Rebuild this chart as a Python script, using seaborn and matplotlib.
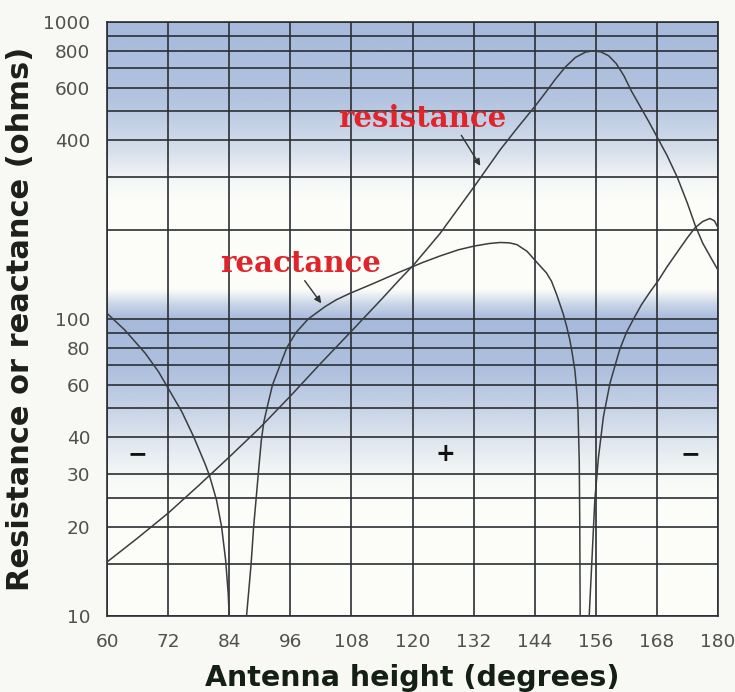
import numpy as np
import pandas as pd
import seaborn as sns
import matplotlib
matplotlib.use("Agg")
import matplotlib.pyplot as plt
from matplotlib.ticker import FixedLocator, FuncFormatter, NullLocator

# resistance curve (degrees, ohms)
res_deg = [60, 66, 72, 78, 84, 90, 96, 102, 108, 114, 117.5, 120.2,
           125.4, 132.1, 137.2, 140.5, 144, 146, 148, 150, 152, 154, 155.5,
           157, 158.5, 160, 161.5, 163, 164.7, 166.4, 168, 170, 172, 174,
           175.5, 177, 178.5, 180]
res_ohm = [15.2, 18.3, 22.2, 27.5, 34.3, 43, 55, 71, 91, 117, 136, 152,
           194, 279, 371, 438, 519, 575, 640, 705, 760, 792, 800,
           793, 770, 725, 660, 585, 520, 462, 411, 355, 300, 245,
           207, 180, 162, 146]

# reactance magnitude, three branches between the zero crossings
xl_deg = [60, 63.5, 67.5, 70.1, 72, 74.7, 77, 79.2, 80.1, 81.5, 82.5, 83.3,
          83.8, 84.0, 84.15]
xl_ohm = [104.5, 91.8, 76.7, 66.5, 58.5, 48.7, 40.2, 32.7, 29.8, 24.6, 20, 15.4,
          11.9, 10, 8.5]

xm_deg = [86.9, 87.4, 87.9, 88.3, 88.8, 89.3, 89.7, 90.3, 90.8, 91.4, 92.5, 94.0,
          95.3, 97.1, 99.5, 102.8, 105, 107.7, 112, 117.5, 119.2, 122, 125.4,
          129, 132.1, 135, 137.2, 139, 140.5, 142.5, 144, 146.3, 147.3, 148.3,
          149.6, 150.3, 150.9, 151.4, 151.9, 152.3, 152.5, 152.75, 152.85, 152.95]
xm_ohm = [8, 10, 12.5, 15, 20, 25, 30, 39, 45, 50, 60, 70,
          80, 90, 100, 110, 116, 122, 131, 144, 148, 155, 163,
          171, 176, 179.5, 181, 180.5, 178, 169, 158, 143, 134, 121,
          104, 94, 85, 76, 67, 56, 49, 33, 20, 8]

xr_deg = [154.6, 154.7, 155.2, 155.8, 156.5, 157.5, 158.8, 160.7, 162, 163.4,
          165, 166.6, 168.3, 170, 172, 174, 175.5, 177, 178.4, 179.3, 180]
xr_ohm = [8, 10, 15, 24.5, 34, 47, 61, 79, 90, 100,
          112, 123, 135, 150, 168, 188, 203, 213, 218, 214, 203]

x_ticks = [60, 72, 84, 96, 108, 120, 132, 144, 156, 168, 180]
y_grid = [10, 15, 20, 25, 30, 40, 50, 60, 70, 80, 90, 100,
          200, 300, 400, 500, 600, 700, 800, 900, 1000]
y_labels = [10, 20, 30, 40, 60, 80, 100, 400, 600, 800, 1000]

reactance = pd.DataFrame({
    "deg": xl_deg + xm_deg + xr_deg,
    "ohm": xl_ohm + xm_ohm + xr_ohm,
    "branch": ["a"] * len(xl_deg) + ["b"] * len(xm_deg) + ["c"] * len(xr_deg),
})
resistance = pd.DataFrame({"deg": res_deg, "ohm": res_ohm})

sns.set_style("white")
plt.rcParams["font.family"] = ["DejaVu Sans"]

grid_c = "#2b2f33"
curve_c = "#3a3d40"
red = "#e0242b"

fig = plt.figure(figsize=(7.35, 6.92), dpi=100, facecolor="#f8f9f4")
ax = fig.add_axes([0.1456, 0.1098, 0.8313, 0.8584])
ax.set_facecolor("#fcfdf9")

# blue shaded bands behind the grid
rows = np.linspace(22, 616, 600)
prof_y = [22, 100, 150, 180, 200, 290, 305, 320, 370, 400, 440, 480, 500, 616]
prof_a = [1.0, 0.85, 0.45, 0.1, 0.0, 0.0, 0.6, 1.0, 0.9, 0.7, 0.35, 0.05, 0.0, 0.0]
alpha = np.interp(rows, prof_y, prof_a)
img = np.ones((600, 2, 4))
img[..., 0] = 0xa6 / 255
img[..., 1] = 0xb9 / 255
img[..., 2] = 0xdb / 255
img[..., 3] = alpha[:, None]
ax.imshow(img, extent=[0, 1, 0, 1], transform=ax.transAxes, aspect="auto",
          interpolation="bilinear", zorder=0)

ax.set_yscale("log")
sns.lineplot(data=resistance, x="deg", y="ohm", color=curve_c, lw=1.1,
             estimator=None, sort=False, ax=ax, zorder=3)
sns.lineplot(data=reactance, x="deg", y="ohm", units="branch", color=curve_c,
             lw=1.1, estimator=None, sort=False, ax=ax, zorder=3)

ax.set_xlim(60, 180)
ax.set_ylim(10, 1000)
ax.xaxis.set_major_locator(FixedLocator(x_ticks))
ax.yaxis.set_major_locator(FixedLocator(y_grid))
ax.yaxis.set_minor_locator(NullLocator())
ax.yaxis.set_major_formatter(
    FuncFormatter(lambda v, p: f"{v:g}" if round(v) in y_labels else ""))
ax.grid(True, which="major", color=grid_c, lw=1.2, zorder=2)
ax.set_axisbelow(False)
for s in ax.spines.values():
    s.set_color(grid_c)
    s.set_linewidth(1.2)
ax.tick_params(axis="both", length=7.2, width=1.2, color=grid_c, pad=5,
               labelsize=13.3, labelcolor="#505050")

ax.set_xlabel("Antenna height (degrees)", fontsize=20.5, fontweight="bold",
              color="#142014")
ax.set_ylabel("Resistance or reactance (ohms)", fontsize=22, fontweight="bold",
              color="#1c1f1c")
ax.xaxis.set_label_coords(0.5, -0.081)
ax.yaxis.set_label_coords(-0.118, 0.5)

ax.text(121.9, 475, "resistance", color=red, fontsize=21, fontweight="bold",
        family=["DejaVu Serif"], ha="center", va="center", zorder=5)
ax.text(98.1, 154, "reactance", color=red, fontsize=21, fontweight="bold",
        family=["DejaVu Serif"], ha="center", va="center", zorder=5)
arrow = dict(arrowstyle="-|>", color="#333333", lw=1.0, mutation_scale=10)
ax.annotate("", xy=(133.6, 322), xytext=(129.3, 423), arrowprops=arrow, zorder=5)
ax.annotate("", xy=(102.4, 111), xytext=(98.5, 137), arrowprops=arrow, zorder=5)

for xs, s in [(66, "\u2212"), (126.4, "+"), (174.5, "\u2212")]:
    ax.text(xs, 35, s, fontsize=17, fontweight="bold", color="#111111",
            ha="center", va="center", zorder=5)

fig.savefig("out.png", dpi=100, facecolor=fig.get_facecolor())
